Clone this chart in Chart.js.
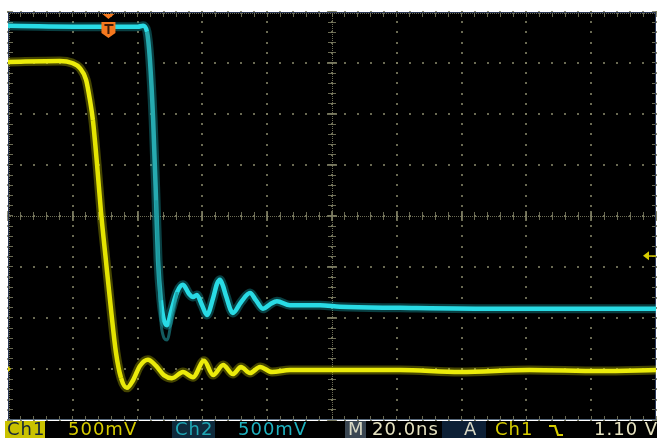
<!DOCTYPE html>
<html>
<head>
<meta charset="utf-8">
<script src="https://cdn.jsdelivr.net/npm/chart.js@4/dist/chart.umd.min.js"></script>
<style>
  body { margin: 0; background: #fff; }
  #wrap { position: relative; width: 657px; height: 438px; overflow: hidden; }
  #scope { position: absolute; left: 0; top: 0; }
  #bar { position: absolute; left: 5px; top: 421px; width: 652px; height: 17px; background: #000; }
  .box { position: absolute; top: 421px; height: 17px; }
  .txt { position: absolute; top: 420px; height: 18px; line-height: 18px; white-space: pre;
         font-family: "DejaVu Sans", sans-serif; font-size: 18px; letter-spacing: 1px; }
</style>
</head>
<body>
<div id="wrap">
  <canvas id="scope" width="657" height="438"></canvas>
  <div id="bar"></div>
  <div class="box" style="left:5px;width:40px;background:#c9c200"></div>
  <div class="box" style="left:172px;width:43px;background:#0f2a3c"></div>
  <div class="box" style="left:345px;width:21px;background:#3a4652"></div>
  <div class="box" style="left:442px;width:44px;background:#0d2036"></div>
  <span class="txt" style="left:7px;color:#13243a">Ch1</span>
  <span class="txt" style="left:68px;color:#d7cc00">500mV</span>
  <span class="txt" style="left:175px;color:#1fa7b5">Ch2</span>
  <span class="txt" style="left:238px;color:#1fb3c0">500mV</span>
  <span class="txt" style="left:348px;color:#d8d8c4">M</span>
  <span class="txt" style="left:372px;color:#e6e2c0">20.0ns</span>
  <span class="txt" style="left:464px;color:#d8d8c4">A</span>
  <span class="txt" style="left:495px;color:#d7cc00">Ch1</span>
  <svg style="position:absolute;left:548px;top:424px" width="16" height="13">
    <polyline points="1,2 7,2 10,11 15,11" fill="none" stroke="#d7cc00" stroke-width="2.2"/>
  </svg>
  <span class="txt" style="left:594px;color:#e6e2c0">1.10 V</span>
</div>
<script>
// graticule: 10 x 20ns, 8 x 500mV (values in divisions)
const xMin = 0, xMax = 200, xDiv = 20
const yMin = -4, yMax = 4

// Ch1 (yellow)
const ch1Time = [0, 16.0, 19.8, 22.2, 24.1, 25.3, 26.2, 27.5, 28.7, 30.2, 31.8, 33.3, 34.9, 36.7, 38.6,
  40.7, 43.2, 45.7, 48.1, 50.6, 54.0, 57.1, 60.5, 63.3, 66.4, 69.4, 71.9, 74.7, 77.8, 81.5, 87.0,
  99.4, 121, 139.5, 161, 182.7, 200]
const ch1Div = [3.02, 3.04, 3.0, 2.90, 2.67, 2.27, 1.88, 1.0, 0.08, -0.86, -1.84, -2.67, -3.18, -3.37, -3.22,
  -2.94, -2.82, -2.94, -3.12, -3.18, -3.06, -3.16, -2.84, -3.12, -2.92, -3.10, -2.96, -3.08, -2.96, -3.06, -3.02,
  -3.02, -3.02, -3.06, -3.02, -3.04, -3.02]

// Ch2 (cyan)
const ch2Time = [0, 28.4, 40.1, 41.7, 42.9, 43.8, 44.8, 45.7, 46.3, 47.2, 48.1, 49.1, 50.3, 52.2, 54.0,
  55.9, 57.1, 58.3, 59.9, 61.4, 63.3, 64.5, 65.4, 66.3, 67.3, 69.4, 71.9, 74.7, 76.5, 78.7, 80.9, 83.0, 87.0,
  96.3, 102.5, 121, 151.9, 200]
const ch2Div = [3.73, 3.71, 3.71, 3.73, 3.61, 3.06, 1.88, 0.31, -0.86, -1.65, -2.04, -2.14, -1.88, -1.49, -1.35,
  -1.53, -1.59, -1.55, -1.75, -1.94, -1.61, -1.33, -1.25, -1.36, -1.57, -1.90, -1.69, -1.51, -1.65, -1.82, -1.73, -1.67, -1.75,
  -1.75, -1.78, -1.80, -1.82, -1.82]

// dim persistence of Ch2 undershoot
const ch2GhostTime = [45.7, 47.4, 49.1, 50.6, 52.2]
const ch2GhostDiv = [0.31, -2.2, -2.43, -2.0, -1.49]

const trigTime = 31        // ns, "T" marker
const trigLevel = -0.78    // div, Ch1 1.10 V
const ch1Ground = -3       // div

const pts = (t, v) => t.map((x, i) => ({ x: x, y: v[i] }))

const gridColor = "rgba(125,125,98,0.85)"

const scopeBack = {
  id: "scopeBack",
  beforeDraw(chart) {
    const { ctx, chartArea: a } = chart
    ctx.save()
    ctx.fillStyle = "#000"
    ctx.fillRect(a.left, a.top, a.right - a.left, a.bottom - a.top)
    ctx.restore()
  }
}

const graticule = {
  id: "graticule",
  beforeDatasetsDraw(chart) {
    const { ctx, chartArea: a, scales: { x, y } } = chart
    ctx.save()
    ctx.fillStyle = gridColor
    const dot = (px, py, w, h) => ctx.fillRect(Math.round(px - w / 2), Math.round(py - h / 2), w, h)
    // dotted major lines
    for (let t = xMin; t <= xMax; t += xDiv) {
      const px = x.getPixelForValue(t)
      for (let v = yMin; v <= yMax + 1e-6; v += 0.2) dot(px, y.getPixelForValue(v), 2, 2)
    }
    for (let v = yMin; v <= yMax; v += 1) {
      const py = y.getPixelForValue(v)
      for (let t = xMin; t <= xMax + 1e-6; t += xDiv / 5) dot(x.getPixelForValue(t), py, 2, 2)
    }
    // center cross + border: fine dotted line with minor ticks
    const cx = x.getPixelForValue((xMin + xMax) / 2)
    const cy = y.getPixelForValue(0)
    for (let py = a.top; py <= a.bottom; py += 2) dot(cx, py, 1, 1)
    for (let px = a.left; px <= a.right; px += 2) dot(px, cy, 1, 1)
    for (let px = a.left; px <= a.right; px += 2) { dot(px, a.top + 1, 1, 1); dot(px, a.bottom - 1, 1, 1) }
    for (let py = a.top; py <= a.bottom; py += 2) { dot(a.left + 1, py, 1, 1); dot(a.right - 1, py, 1, 1) }
    for (let v = yMin; v <= yMax + 1e-6; v += 0.2) {
      const py = y.getPixelForValue(v)
      dot(cx, py, 8, 1)
      dot(a.left + 2, py, 5, 1)
      dot(a.right - 2, py, 5, 1)
    }
    for (let t = xMin; t <= xMax + 1e-6; t += xDiv / 5) {
      const px = x.getPixelForValue(t)
      dot(px, cy, 1, 8)
      dot(px, a.top + 2, 1, 5)
      dot(px, a.bottom - 2, 1, 5)
    }
    // major intersections on grid lines
    for (let t = xMin; t <= xMax; t += xDiv) {
      const px = x.getPixelForValue(t)
      dot(px, cy, 2, 10)
    }
    for (let v = yMin; v <= yMax; v += 1) dot(cx, y.getPixelForValue(v), 10, 2)
    // frame
    ctx.strokeStyle = "#2b3858"
    ctx.lineWidth = 1
    ctx.strokeRect(a.left + 0.5, a.top + 0.5, a.right - a.left - 1, a.bottom - a.top - 1)
    ctx.strokeStyle = "#56677a"
    ctx.beginPath()
    ctx.moveTo(a.left, a.bottom - 0.5)
    ctx.lineTo(a.right, a.bottom - 0.5)
    ctx.stroke()
    ctx.restore()
  }
}

const markers = {
  id: "markers",
  afterDatasetsDraw(chart) {
    const { ctx, chartArea: a, scales: { x, y } } = chart
    ctx.save()
    // trigger position "T"
    const tx = x.getPixelForValue(trigTime)
    ctx.fillStyle = "#f5781e"
    ctx.beginPath()
    ctx.moveTo(tx - 6, a.top + 2); ctx.lineTo(tx + 6, a.top + 2); ctx.lineTo(tx, a.top + 7)
    ctx.closePath(); ctx.fill()
    ctx.beginPath()
    ctx.moveTo(tx - 7, a.top + 10); ctx.lineTo(tx + 7, a.top + 10)
    ctx.lineTo(tx + 7, a.top + 21); ctx.lineTo(tx, a.top + 26); ctx.lineTo(tx - 7, a.top + 21)
    ctx.closePath(); ctx.fill()
    ctx.fillStyle = "#3a1a08"
    ctx.fillRect(tx - 4, a.top + 12, 9, 2)
    ctx.fillRect(tx - 1, a.top + 12, 2, 10)
    // trigger level arrow
    const ly = y.getPixelForValue(trigLevel)
    ctx.fillStyle = "#d8cc00"
    ctx.beginPath()
    ctx.moveTo(a.right - 13, ly); ctx.lineTo(a.right - 7, ly - 4.5); ctx.lineTo(a.right - 7, ly + 4.5)
    ctx.closePath(); ctx.fill()
    ctx.fillRect(a.right - 8, ly - 0.5, 8, 1.5)
    // Ch1 ground marker
    const gy = y.getPixelForValue(ch1Ground)
    ctx.beginPath()
    ctx.moveTo(a.left, gy - 3); ctx.lineTo(a.left + 3, gy); ctx.lineTo(a.left, gy + 3)
    ctx.closePath(); ctx.fill()
    ctx.restore()
  }
}

const trace = (data, color, width) => ({
  data: data,
  borderColor: color,
  borderWidth: width,
  pointRadius: 0,
  fill: false,
  cubicInterpolationMode: "monotone"
})

new Chart(document.getElementById("scope"), {
  type: "line",
  data: {
    datasets: [
      trace(pts(ch1Time, ch1Div), "rgba(230,230,0,0.3)", 9),
      trace(pts(ch2Time, ch2Div), "rgba(30,210,220,0.3)", 9),
      trace(pts(ch2GhostTime, ch2GhostDiv), "rgba(25,120,125,0.75)", 3),
      Object.assign(trace(pts(ch1Time, ch1Div), "#eeee10", 4.5), {
        segment: { borderColor: c => Math.abs(c.p1.y - c.p0.y) > 25 ? "#e4e400" : undefined }
      }),
      Object.assign(trace(pts(ch2Time, ch2Div), "#2ee0ea", 4.5), {
        segment: { borderColor: c => Math.abs(c.p1.y - c.p0.y) > 25 ? "#2a9a9e" : undefined }
      })
    ]
  },
  options: {
    responsive: false,
    animation: false,
    layout: { padding: { left: 8, top: 12, right: 1, bottom: 18 } },
    scales: {
      x: { type: "linear", min: xMin, max: xMax, display: false },
      y: { type: "linear", min: yMin, max: yMax, display: false }
    },
    plugins: { legend: { display: false }, tooltip: { enabled: false } }
  },
  plugins: [scopeBack, graticule, markers]
})
</script>
</body>
</html>
